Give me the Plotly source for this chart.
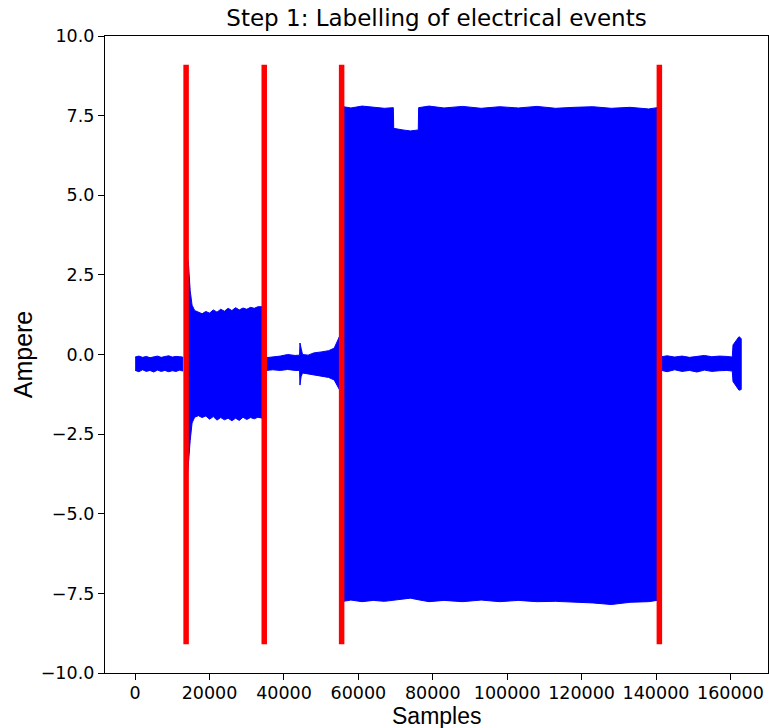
import plotly.graph_objects as go

# ---- data (signal envelope per segment) ----
seg1_x = [0, 1000, 2000, 3000, 4000, 5000, 6000, 7000, 8000, 9000, 10000, 11000, 12000, 12800]
seg1_upper = [-0.08, -0.05, -0.09, -0.06, -0.1, -0.07, -0.05, -0.09, -0.06, -0.04, -0.08, -0.06, -0.07, -0.08]
seg1_lower = [-0.50, -0.54, -0.48, -0.53, -0.50, -0.55, -0.49, -0.53, -0.50, -0.54, -0.51, -0.53, -0.49, -0.52]

seg2_x = [14000, 14300, 14800, 15300, 16000, 17000, 18000, 19000, 20000, 21000, 22000, 23000, 24000, 25000,
          26000, 27000, 28000, 29000, 30000, 31000, 32000, 33000, 34200]
seg2_upper = [3.05, 2.9, 2.0, 1.55, 1.38, 1.32, 1.28, 1.35, 1.3, 1.4, 1.33, 1.42, 1.36, 1.45, 1.38,
              1.47, 1.4, 1.46, 1.42, 1.48, 1.45, 1.5, 1.5]
seg2_lower = [-3.9, -3.5, -2.7, -2.15, -1.97, -1.92, -1.98, -1.93, -2.03, -1.95, -2.06, -1.98, -2.05, -2.0,
              -2.08, -2.0, -2.07, -1.97, -2.04, -1.98, -2.02, -1.97, -2.0]

seg3_x = [35200, 37000, 39000, 41000, 43000, 44200, 44300, 44600, 45000, 46500, 48000, 50000, 52000, 53500, 54300, 54900]
seg3_upper = [-0.1, -0.08, -0.05, 0.0, -0.03, -0.02, 0.36, 0.2, 0.0, -0.02, 0.05, 0.08, 0.12, 0.2, 0.4, 0.56]
seg3_lower = [-0.5, -0.48, -0.5, -0.47, -0.5, -0.5, -0.96, -0.7, -0.58, -0.6, -0.65, -0.68, -0.72, -0.8, -0.95, -1.1]

seg4_x = [56000, 58000, 61000, 64000, 67000, 69400, 69500, 72000, 74000, 76100, 76200, 79000, 83000, 88000,
          93000, 98000, 103000, 108000, 113000, 118000, 123000, 128000, 133000, 138000, 140300]
seg4_upper = [7.78, 7.74, 7.8, 7.76, 7.73, 7.75, 7.1, 7.05, 7.02, 7.05, 7.75, 7.8, 7.74, 7.79,
              7.73, 7.78, 7.74, 7.79, 7.73, 7.76, 7.78, 7.73, 7.76, 7.71, 7.75]
seg4_lower = [-7.75, -7.71, -7.76, -7.72, -7.75, -7.72, -7.72, -7.68, -7.65, -7.7, -7.72, -7.76, -7.72, -7.76,
              -7.71, -7.76, -7.72, -7.76, -7.75, -7.77, -7.8, -7.85, -7.78, -7.76, -7.72]

seg5_x = [141500, 143000, 145000, 147000, 149000, 151000, 153000, 155000, 157000, 159000, 160500,
          160700, 161500, 162300, 162900]
seg5_upper = [-0.07, -0.04, -0.08, -0.05, -0.09, -0.06, -0.03, -0.07, -0.05, -0.06, -0.08,
              0.3, 0.45, 0.56, 0.5]
seg5_lower = [-0.50, -0.54, -0.48, -0.53, -0.50, -0.55, -0.49, -0.53, -0.51, -0.50, -0.52,
              -0.85, -1.0, -1.12, -1.1]

event_samples = [13700, 34700, 55500, 140900]
event_ymin = -9.1
event_ymax = 9.1

x_ticks = [0, 20000, 40000, 60000, 80000, 100000, 120000, 140000, 160000]
x_tick_labels = ["0", "20000", "40000", "60000", "80000", "100000", "120000", "140000", "160000"]
y_ticks = [-10.0, -7.5, -5.0, -2.5, 0.0, 2.5, 5.0, 7.5, 10.0]
y_tick_labels = ["\u221210.0", "\u22127.5", "\u22125.0", "\u22122.5", "0.0", "2.5", "5.0", "7.5", "10.0"]

segments = [
    (seg1_x, seg1_upper, seg1_lower),
    (seg2_x, seg2_upper, seg2_lower),
    (seg3_x, seg3_upper, seg3_lower),
    (seg4_x, seg4_upper, seg4_lower),
    (seg5_x, seg5_upper, seg5_lower),
]

fig = go.Figure()
for xs, up, lo in segments:
    fig.add_trace(go.Scatter(
        x=list(xs) + list(xs)[::-1],
        y=list(up) + list(lo)[::-1],
        fill="toself", fillcolor="#0000ff",
        mode="lines", line=dict(color="#0000ff", width=1),
        hoverinfo="skip", showlegend=False,
    ))

for s in event_samples:
    fig.add_trace(go.Scatter(
        x=[s, s], y=[event_ymin, event_ymax], mode="lines",
        line=dict(color="#ff0000", width=5.5), showlegend=False, hoverinfo="skip",
    ))

axis_common = dict(
    showline=True, linecolor="black", linewidth=1.3, mirror=True,
    ticks="outside", ticklen=6, tickwidth=1.3, tickcolor="black",
    showgrid=False, zeroline=False,
    tickfont=dict(family="DejaVu Sans", size=17.5, color="black"),
)

plot_top, plot_bottom = 36, 673  # pixel rows of the plot area

fig.update_layout(
    width=769, height=728,
    margin=dict(l=105, r=1, t=plot_top, b=728 - plot_bottom),
    paper_bgcolor="white", plot_bgcolor="white",
    title=dict(text="Step 1: Labelling of electrical events", x=0.5, xanchor="center",
               xref="paper", y=1 - 18 / 728, yref="container", yanchor="middle",
               font=dict(family="DejaVu Sans", size=23, color="black")),
    xaxis=dict(range=[-8100, 170100], tickvals=x_ticks, ticktext=x_tick_labels,
               ticklabelstandoff=-2, **axis_common),
    yaxis=dict(range=[-10, 10], tickvals=y_ticks, ticktext=y_tick_labels,
               title=dict(text="Ampere", font=dict(family="Liberation Sans", size=25, color="black"), standoff=0),
               **axis_common),
    annotations=[dict(
        text="Samples", xref="paper", yref="paper", x=0.5,
        y=(plot_bottom - 716) / (plot_bottom - plot_top),
        xanchor="center", yanchor="middle", showarrow=False,
        font=dict(family="Liberation Sans", size=23, color="black"),
    )],
)

fig.write_html(
    "out.html",
    config={"displayModeBar": False},
    post_script="document.body.style.margin='0';document.documentElement.style.overflow='hidden';document.body.style.overflow='hidden';",
)
